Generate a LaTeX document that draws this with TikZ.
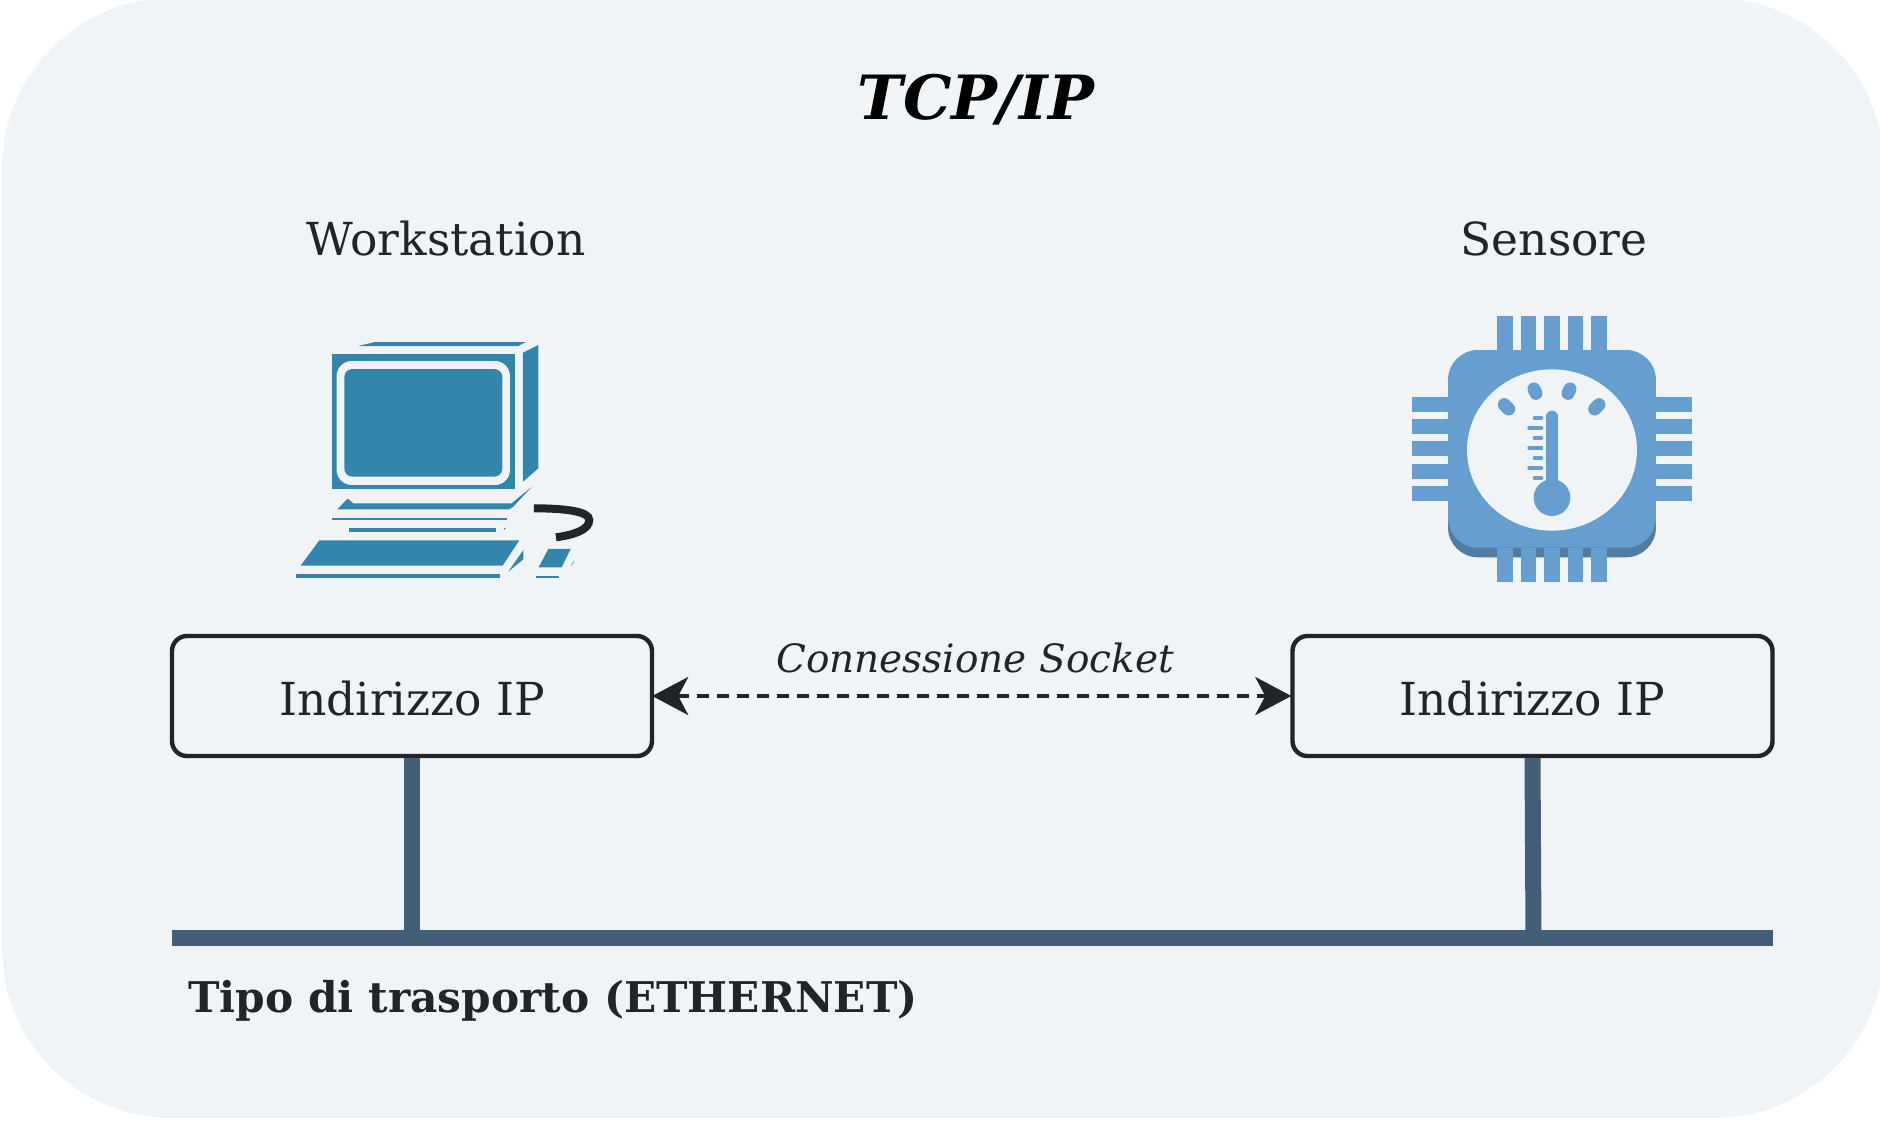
\documentclass[tikz,border=0pt]{standalone}
\usepackage{fontspec}
\setmainfont{DejaVu Serif}
\usetikzlibrary{arrows.meta,positioning}
\definecolor{panelbg}{HTML}{F0F4F7}
\definecolor{inkdark}{HTML}{212529}
\definecolor{busblue}{HTML}{435F78}
\definecolor{pcteal}{HTML}{3385AB}
\definecolor{chipblue}{HTML}{659ECF}
\definecolor{chipshade}{HTML}{527DA3}
\tikzset{
  ipbox/.style={draw=inkdark,line width=4.4pt,rounded corners=15pt,fill=panelbg,minimum width=480pt,minimum height=120pt,inner sep=0pt,text=inkdark,font=\fontsize{45.5}{52}\selectfont},
  hostlabel/.style={text=inkdark,inner sep=0pt,font=\fontsize{45.5}{52}\selectfont},
  busline/.style={draw=busblue,line width=16pt},
  pcpart/.style={fill=pcteal,draw=none},
  chippart/.style={fill=chipblue,draw=none},
}
\begin{document}
\begin{tikzpicture}[x=1pt,y=-1pt,>=Stealth]
\useasboundingbox (0,0) rectangle (1880,1120);
\fill[panelbg,rounded corners=170pt] (2,-2) rectangle (1884,1118);
\node[inner sep=0pt,font=\fontsize{61}{70}\selectfont\bfseries\itshape] (title) at (976,100) {TCP/IP};
\node[hostlabel] (wslabel) at (446,239) {Workstation};
\node[hostlabel] (senslabel) at (1554,239) {Sensore};
\node[ipbox] (ipleft) at (412,696) {\raisebox{-19.5pt}[0pt][0pt]{Indirizzo IP}};
\node[ipbox] (ipright) at (1532.5,696) {\raisebox{-19.5pt}[0pt][0pt]{Indirizzo IP}};
\node[hostlabel,font=\fontsize{39}{46}\selectfont\itshape] (socklabel) at (975,658) {Connessione Socket};
\node[anchor=west,inner sep=0pt,text=inkdark,font=\fontsize{42.3}{50}\selectfont\bfseries] (buslabel) at (188,1001) {Tipo di trasporto (ETHERNET)};
\coordinate (busleft) at (172,938);
\coordinate (busright) at (1773,938);
\coordinate (tapleft) at (ipleft.south |- busleft);
\coordinate (tapright) at (1533.5,938);
\draw[busline] (busleft) -- (busright);
\draw[busline] (ipleft.south) -- (tapleft);
\draw[busline] (ipright.south) -- (tapright);
\draw[inkdark,line width=4pt,dash pattern=on 12pt off 8pt,shorten <=-2pt,shorten >=-1pt,{Stealth[length=36pt,width=38pt,inset=10pt]}-{Stealth[length=36pt,width=38pt,inset=10pt]}] (ipleft.east) -- (ipright.west);
\begin{scope}[shift={(280,330)},x=0.3333pt,y=-0.3333pt]
\fill[pcpart] (235,48) -- (285,36) -- (738,36) -- (715,48) -- cycle;
\fill[pcpart] (155,73) rectangle (705,478);
\fill[panelbg,rounded corners=15pt] (170,93) rectangle (690,465);
\fill[pcpart,rounded corners=8pt] (193,117) rectangle (667,440);
\fill[pcpart] (729,68) -- (775,45) -- (775,415) -- (729,455) -- cycle;
\fill[pcpart] (172,538) -- (203,506) -- (220,520) -- (695,520) -- (756,470) -- (700,530) -- (688,538) -- cycle;
\fill[pcpart] (155,563) rectangle (680,570);
\fill[pcpart] (206,594) rectangle (648,607);
\fill[pcpart] (672,594) -- (678,594) -- (672,600) -- cycle;
\fill[pcpart] (118,631) -- (718,631) -- (668,707) -- (62,707) -- cycle;
\fill[pcpart] (48,732) rectangle (660,744);
\fill[pcpart] (685,725) -- (730,660) -- (730,688) -- cycle;
\fill[pcpart] (805,657) -- (872,657) -- (845,712) -- (776,712) -- cycle;
\fill[pcpart] (767,738) rectangle (837,744);
\fill[pcpart] (873,708) -- (882,692) -- (880,700) -- cycle;
\draw[inkdark,line width=8pt] (762,535) .. controls (860,535) and (928,545) .. (928,570) .. controls (928,600) and (880,615) .. (828,622);
\end{scope}
\begin{scope}[shift={(1400,305)},x=0.3333pt,y=-0.3333pt]
\fill[chipshade,rounded corners=30pt] (144,300) rectangle (768,757);
\fill[chippart,rounded corners=30pt] (144,135) rectangle (768,728);
\foreach \pinx in {291,362,432,503,574} {
  \fill[chippart] (\pinx,33) rectangle ++(47,102);
  \fill[chippart] (\pinx,728) rectangle ++(47,102);
}
\foreach \piny in {275,342,409,476,543} {
  \fill[chippart] (36,\piny) rectangle ++(108,45);
  \fill[chippart] (768,\piny) rectangle ++(108,45);
}
\fill[panelbg] (456,435) ellipse [x radius=255,y radius=242];
\fill[chippart] (456,578) circle [radius=55];
\draw[chipblue,line width=11.5pt,line cap=round] (456,334) -- (456,560);
\foreach \ticky/\tickx in {339/404,369/388,399/404,430/388,459/404,489/388,519/404}
  \draw[chipblue,line width=4pt,line cap=round] (\tickx,\ticky) -- (424,\ticky);
\draw[chipblue,line width=13pt,line cap=round] (313,299) -- (326,312);
\draw[chipblue,line width=13pt,line cap=round] (402,252) -- (408,265);
\draw[chipblue,line width=13pt,line cap=round] (510,252) -- (504,265);
\draw[chipblue,line width=13pt,line cap=round] (597,299) -- (584,312);
\end{scope}
\end{tikzpicture}
\end{document}
